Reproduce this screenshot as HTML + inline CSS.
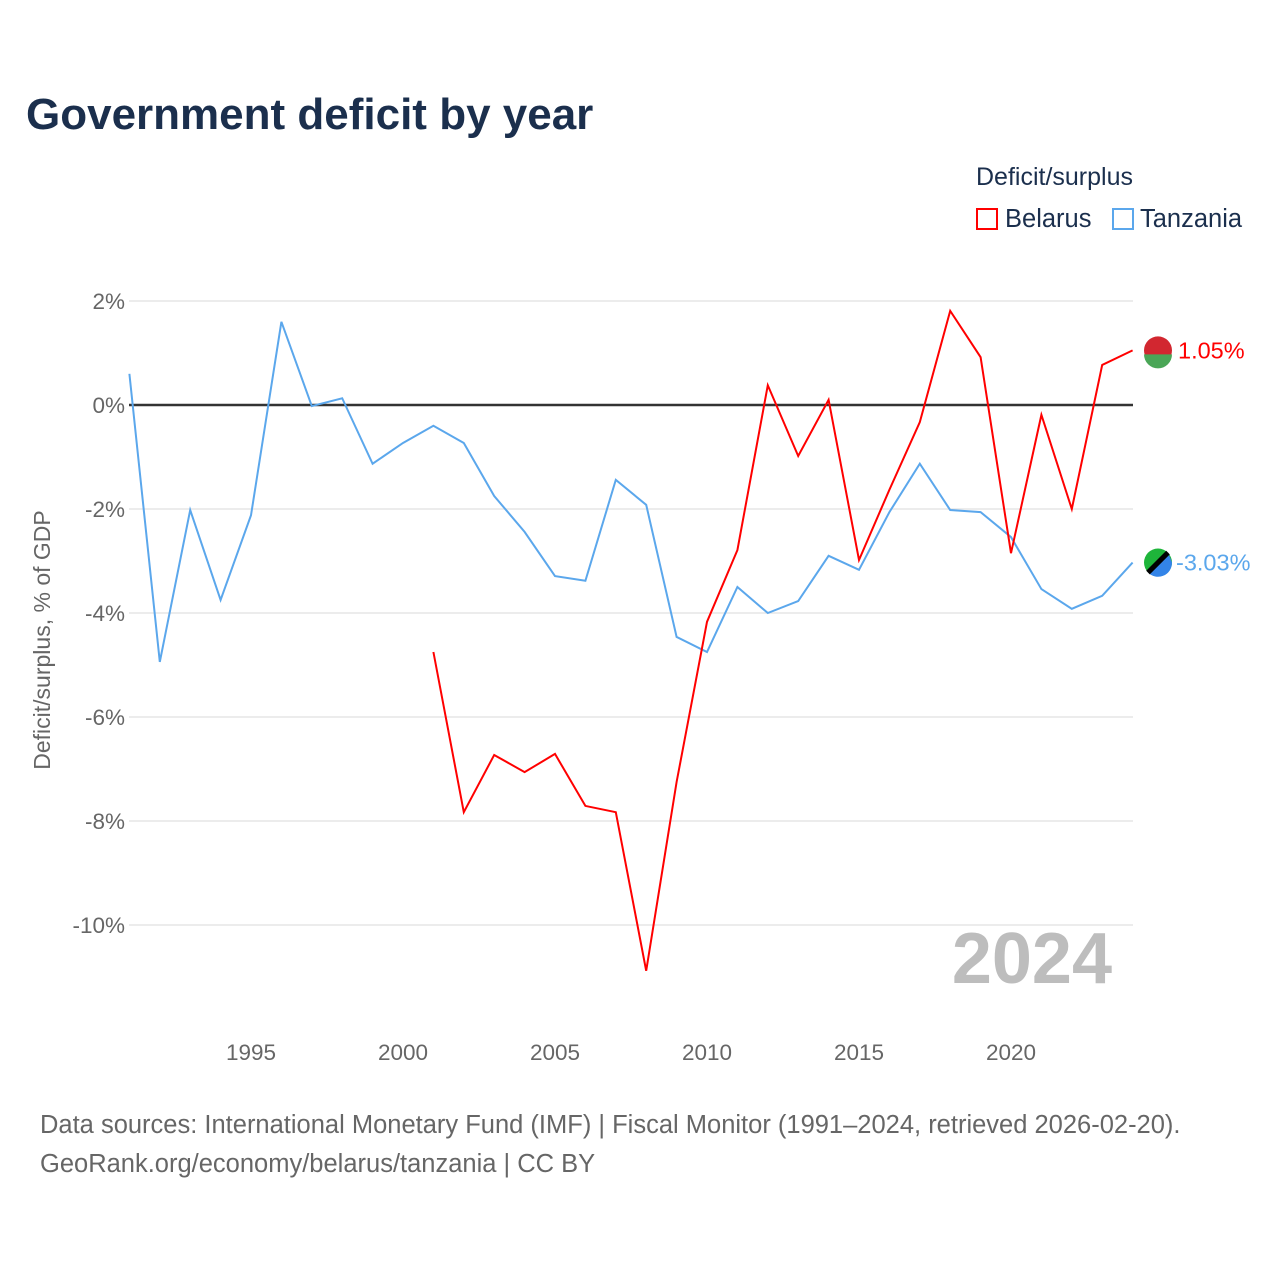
<!DOCTYPE html>
<html><head><meta charset="utf-8">
<style>
html,body{margin:0;padding:0;background:#fff;}
body{width:1280px;height:1280px;position:relative;font-family:"Liberation Sans",sans-serif;overflow:hidden;}
.t{position:absolute;white-space:nowrap;}
</style></head>
<body>
<div class="t" style="left:26px;top:90px;font-size:44px;font-weight:bold;color:#1b2f4d;">Government deficit by year</div>
<div class="t" style="left:976px;top:163px;font-size:25px;color:#1b2f4d;">Deficit/surplus</div>
<div class="t" style="left:976px;top:205px;font-size:25.5px;color:#1b2f4d;"><span style="display:inline-block;width:22px;height:22px;border:2px solid #f00;box-sizing:border-box;vertical-align:-3px;margin-right:7px;"></span>Belarus</div>
<div class="t" style="left:1112px;top:205px;font-size:25.5px;color:#1b2f4d;"><span style="display:inline-block;width:22px;height:22px;border:2px solid #5ba7ec;box-sizing:border-box;vertical-align:-3px;margin-right:6px;"></span>Tanzania</div>
<div class="t" style="left:40px;top:1106px;font-size:25.5px;color:#666;line-height:39px;">Data sources: International Monetary Fund (IMF) | Fiscal Monitor (1991–2024, retrieved 2026-02-20).<br>GeoRank.org/economy/belarus/tanzania | CC BY</div>
<svg id="chart" width="1280" height="1280" style="position:absolute;left:0;top:0;"></svg>
<script>
const years=[1991,1992,1993,1994,1995,1996,1997,1998,1999,2000,2001,2002,2003,2004,2005,2006,2007,2008,2009,2010,2011,2012,2013,2014,2015,2016,2017,2018,2019,2020,2021,2022,2023,2024];
const tanzania=[0.6,-4.94,-2.02,-3.75,-2.12,1.6,-0.02,0.13,-1.13,-0.73,-0.4,-0.73,-1.75,-2.44,-3.29,-3.38,-1.44,-1.92,-4.46,-4.75,-3.5,-4.0,-3.77,-2.9,-3.17,-2.06,-1.13,-2.02,-2.06,-2.54,-3.54,-3.92,-3.67,-3.03];
const belarusYears=[2001,2002,2003,2004,2005,2006,2007,2008,2009,2010,2011,2012,2013,2014,2015,2016,2017,2018,2019,2020,2021,2022,2023,2024];
const belarus=[-4.75,-7.83,-6.73,-7.06,-6.71,-7.71,-7.83,-10.88,-7.25,-4.17,-2.79,0.38,-0.98,0.1,-2.98,-1.63,-0.33,1.81,0.92,-2.85,-0.19,-2.0,0.77,1.05];
const yTicks=[2,0,-2,-4,-6,-8,-10];
const xTicks=[1995,2000,2005,2010,2015,2020];
const NS="http://www.w3.org/2000/svg";
const svg=document.getElementById('chart');
const X=y=>129.4+(y-1991)*30.4;
const Y=v=>405-v*52;
function el(tag,attrs,text){const e=document.createElementNS(NS,tag);for(const k in attrs)e.setAttribute(k,attrs[k]);if(text!==undefined)e.textContent=text;svg.appendChild(e);return e;}
yTicks.forEach(v=>{
  const g=el('line',{x1:129,x2:1133,y1:Y(v),y2:Y(v),stroke:v===0?'#333':'#e6e6e6','stroke-width':v===0?2.5:1.5});
  
  
  const t=el('text',{x:125,y:Y(v)+8,'text-anchor':'end','font-size':22.5,fill:'#666','font-family':'Liberation Sans, sans-serif'},v+'%');
  
  
});
xTicks.forEach(y=>{
  const t=el('text',{x:X(y),y:1060,'text-anchor':'middle','font-size':22.5,fill:'#666','font-family':'Liberation Sans, sans-serif'},String(y));
  
  
});
const yt=el('text',{x:0,y:0,transform:'translate(50,640) rotate(-90)','text-anchor':'middle','font-size':23,fill:'#666','font-family':'Liberation Sans, sans-serif'},'Deficit/surplus, % of GDP');


const yr=el('text',{x:1112,y:983,'text-anchor':'end','font-size':72,'font-weight':'bold',fill:'#bdbdbd','font-family':'Liberation Sans, sans-serif'},'2024');


const tp=el('polyline',{points:years.map((y,i)=>X(y)+','+Y(tanzania[i])).join(' '),fill:'none',stroke:'#5ba7ec','stroke-width':2});


const bp=el('polyline',{points:belarusYears.map((y,i)=>X(y)+','+Y(belarus[i])).join(' '),fill:'none',stroke:'#f00','stroke-width':2});


const bv=belarus[belarus.length-1], tv=tanzania[tanzania.length-1];
const bf=el('circle',{cx:1158,cy:Y(bv),r:14,fill:'#d22730'});


const bg=el('path',{d:`M1144 ${Y(bv)+4} L1172 ${Y(bv)+4} A14 14 0 0 1 1144 ${Y(bv)+4} Z`,fill:'#4aa657'});


const bl=el('text',{x:1178,y:Y(bv)+8,'font-size':23.5,fill:'#f00','font-family':'Liberation Sans, sans-serif'},bv.toFixed(2)+'%');


const tf=el('circle',{cx:1158,cy:Y(tv),r:14,fill:'#1eb53a'});


const tb=el('path',{d:`M1168 ${Y(tv)-10} L1148 ${Y(tv)+10} A14 14 0 0 0 1172 ${Y(tv)} Z`,fill:'#3384e8'});


const ts=el('line',{x1:1148,y1:Y(tv)+10,x2:1168,y2:Y(tv)-10,stroke:'#000','stroke-width':5});


const tl=el('text',{x:1176,y:Y(tv)+8,'font-size':23.5,fill:'#5ba7ec','font-family':'Liberation Sans, sans-serif'},tv.toFixed(2)+'%');


</script>
</body></html>
